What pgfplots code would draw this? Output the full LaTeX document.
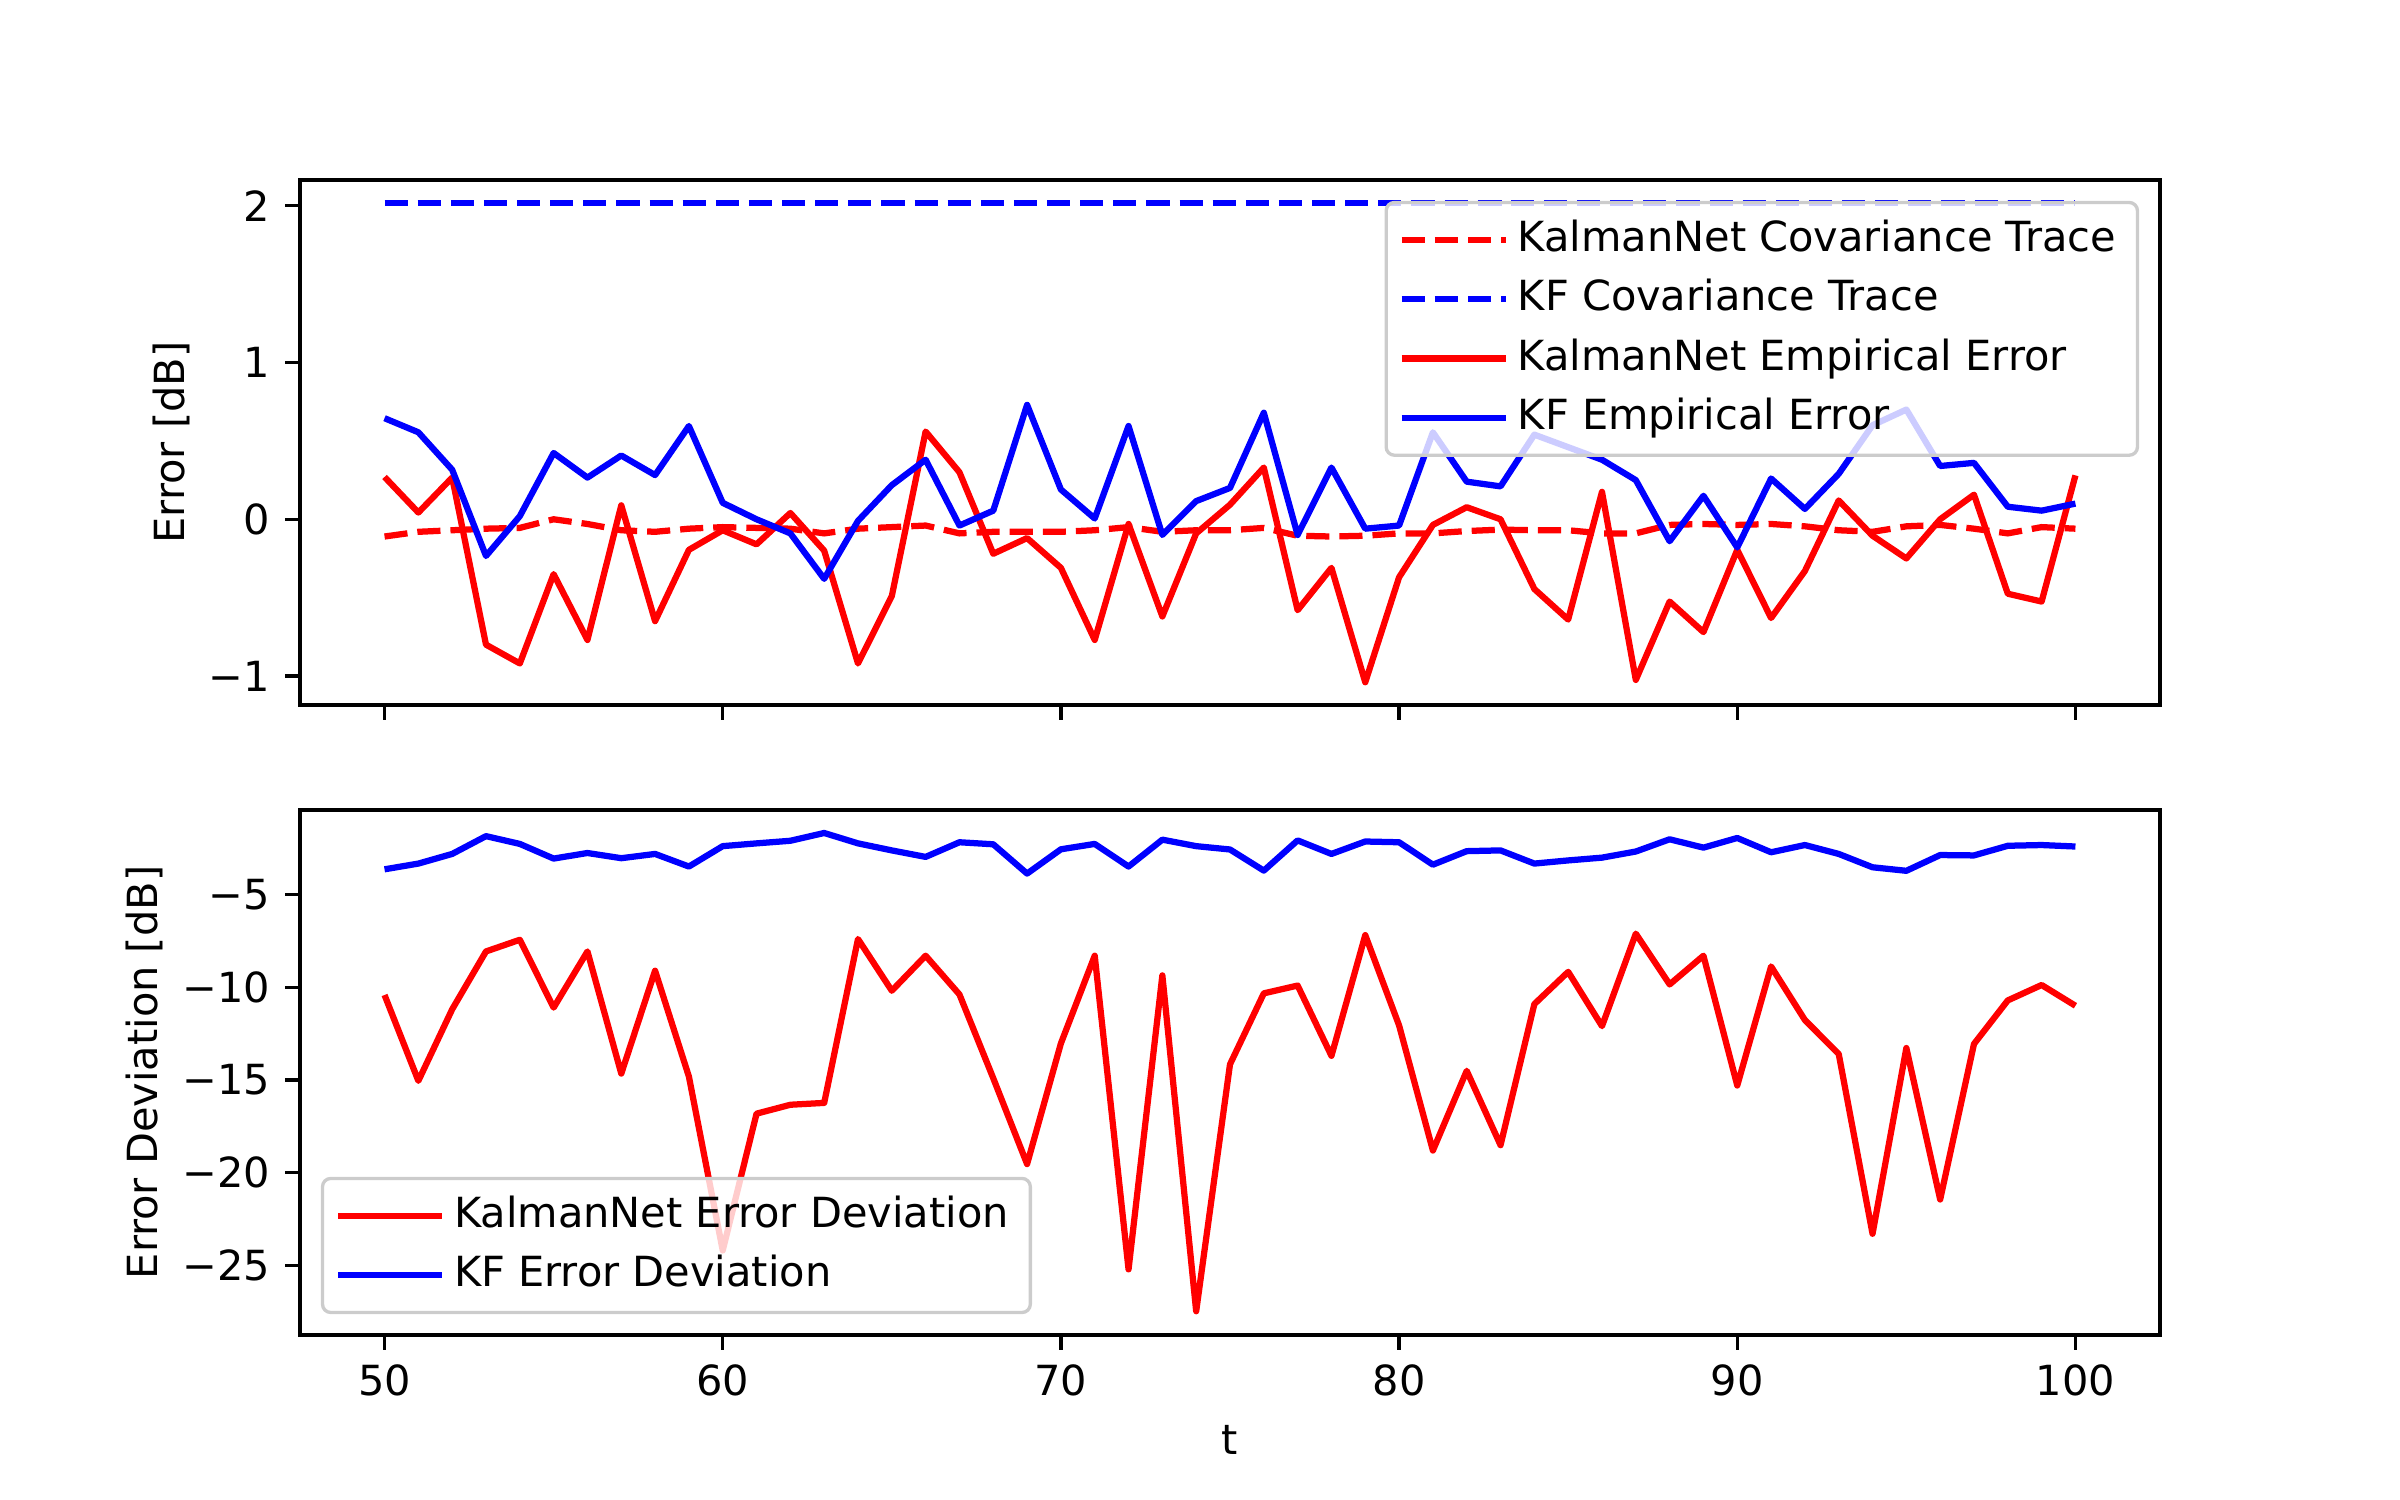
\documentclass[border=0pt]{standalone}
\usepackage{pgfplots}
\pgfplotsset{compat=1.18}
\usepackage{pgfplotstable}
\usepackage{fontspec}
\setmainfont{DejaVu Sans}

\pgfplotstableread{
t kncov kfcov knemp kfemp
50 -0.110 2.016 0.270 0.645
51 -0.080 2.016 0.043 0.555
52 -0.070 2.016 0.266 0.316
53 -0.060 2.016 -0.800 -0.234
54 -0.055 2.016 -0.920 0.020
55 0.000 2.016 -0.350 0.423
56 -0.030 2.016 -0.770 0.266
57 -0.070 2.016 0.089 0.407
58 -0.080 2.016 -0.650 0.282
59 -0.060 2.016 -0.195 0.595
60 -0.050 2.016 -0.070 0.105
61 -0.055 2.016 -0.160 0.000
62 -0.060 2.016 0.040 -0.090
63 -0.090 2.016 -0.200 -0.380
64 -0.060 2.016 -0.920 -0.010
65 -0.050 2.016 -0.490 0.218
66 -0.040 2.016 0.560 0.380
67 -0.090 2.016 0.300 -0.040
68 -0.080 2.016 -0.220 0.055
69 -0.080 2.016 -0.120 0.730
70 -0.080 2.016 -0.310 0.190
71 -0.070 2.016 -0.770 0.005
72 -0.050 2.016 -0.030 0.595
73 -0.080 2.016 -0.620 -0.100
74 -0.070 2.016 -0.090 0.116
75 -0.070 2.016 0.093 0.200
76 -0.055 2.016 0.330 0.680
77 -0.105 2.016 -0.580 -0.100
78 -0.110 2.016 -0.310 0.330
79 -0.105 2.016 -1.040 -0.060
80 -0.090 2.016 -0.370 -0.040
81 -0.090 2.016 -0.036 0.555
82 -0.075 2.016 0.077 0.240
83 -0.066 2.016 0.000 0.210
84 -0.070 2.016 -0.445 0.540
85 -0.070 2.016 -0.640 0.460
86 -0.090 2.016 0.175 0.380
87 -0.090 2.016 -1.025 0.250
88 -0.036 2.016 -0.525 -0.140
89 -0.030 2.016 -0.720 0.150
90 -0.036 2.016 -0.195 -0.180
91 -0.030 2.016 -0.630 0.260
92 -0.045 2.016 -0.330 0.066
93 -0.070 2.016 0.120 0.290
94 -0.080 2.016 -0.105 0.600
95 -0.045 2.016 -0.250 0.700
96 -0.036 2.016 0.000 0.340
97 -0.060 2.016 0.157 0.360
98 -0.090 2.016 -0.475 0.080
99 -0.050 2.016 -0.525 0.055
100 -0.060 2.016 0.280 0.100
}\toptable

\pgfplotstableread{
t kndev kfdev
50 -10.41 -3.63
51 -15.04 -3.32
52 -11.18 -2.80
53 -8.06 -1.84
54 -7.43 -2.26
55 -11.09 -3.05
56 -8.06 -2.75
57 -14.65 -3.03
58 -9.10 -2.80
59 -14.81 -3.48
60 -24.19 -2.38
61 -16.81 -2.23
62 -16.33 -2.09
63 -16.23 -1.67
64 -7.39 -2.23
65 -10.18 -2.61
66 -8.29 -2.96
67 -10.38 -2.17
68 -14.90 -2.28
69 -19.53 -3.86
70 -13.02 -2.55
71 -8.29 -2.26
72 -25.21 -3.48
73 -9.35 -2.03
74 -27.47 -2.38
75 -14.15 -2.56
76 -10.32 -3.70
77 -9.90 -2.07
78 -13.69 -2.80
79 -7.18 -2.13
80 -12.05 -2.17
81 -18.80 -3.38
82 -14.50 -2.65
83 -18.51 -2.61
84 -10.90 -3.32
85 -9.16 -3.15
86 -12.09 -3.00
87 -7.10 -2.67
88 -9.84 -2.01
89 -8.29 -2.46
90 -15.29 -1.94
91 -8.87 -2.71
92 -11.76 -2.32
93 -13.59 -2.80
94 -23.29 -3.52
95 -13.27 -3.71
96 -21.44 -2.86
97 -13.05 -2.88
98 -10.70 -2.36
99 -9.87 -2.32
100 -10.99 -2.40
}\bottable

\pgfplotsset{
  myaxis/.style={
    scale only axis,
    width=6.2in, height=1.75in,
    anchor=south west,
    xmin=47.5, xmax=102.5,
    xtick={50,60,70,80,90,100},
    axis line style={line width=0.8pt},
    every axis/.append style={line width=0.8pt},
    tick align=outside,
    tick pos=left,
    major tick length=3.5pt,
    every tick/.style={black, line width=0.8pt},
    tick label style={font=\fontsize{10}{12}\selectfont},
    label style={font=\fontsize{10}{12}\selectfont},
    ylabel shift=-2.5pt,
    legend cell align=left,
    legend image code/.code={\path (0pt,0pt) -- (25pt,0pt);\draw[##1] (0pt,0pt) -- (20pt,0pt);},
    legend style={
      draw=black!20, line width=0.8pt, rounded corners=2pt,
      fill=white, fill opacity=0.8, text opacity=1,
      font=\fontsize{10}{12}\selectfont,
      inner xsep=3pt, inner ysep=2pt,
      nodes={inner sep=2.2pt, text depth=0.2em},
      row sep=0.3pt,
    },
  },
  ln/.style={line width=1.5bp, line join=round},
  dsh/.style={line width=1.5bp, dash pattern=on 5.55bp off 2.4bp},
}

\begin{document}
\begin{tikzpicture}[font=\fontsize{10}{12}\selectfont]
\useasboundingbox (0,0) rectangle (8in,5in);

\begin{axis}[myaxis,
  at={(1in,2.65in)},
  ymin=-1.185, ymax=2.165,
  ytick={-1,0,1,2},
  yticklabels={−1,0,1,2},
  xticklabels={},
  ylabel={Error [dB]},
  legend style={at={(1,1)}, anchor=north east, xshift=-5bp, yshift=-5bp},
]
\addplot[red, dsh] table[x=t,y=kncov] {\toptable};
\addlegendentry{KalmanNet Covariance Trace}
\addplot[blue, dsh] table[x=t,y=kfcov] {\toptable};
\addlegendentry{KF Covariance Trace}
\addplot[red, ln] table[x=t,y=knemp] {\toptable};
\addlegendentry{KalmanNet Empirical Error}
\addplot[blue, ln] table[x=t,y=kfemp] {\toptable};
\addlegendentry{KF Empirical Error}
\end{axis}

\begin{axis}[myaxis,
  at={(1in,0.55in)},
  ymin=-28.75, ymax=-0.43,
  ytick={-25,-20,-15,-10,-5},
  yticklabels={−25,−20,−15,−10,−5},
  xticklabels={50,60,70,80,90,100},
  xlabel={t},
  ylabel={Error Deviation [dB]},
  legend style={at={(0,0)}, anchor=south west, xshift=5bp, yshift=5bp},
]
\addplot[red, ln] table[x=t,y=kndev] {\bottable};
\addlegendentry{KalmanNet Error Deviation}
\addplot[blue, ln] table[x=t,y=kfdev] {\bottable};
\addlegendentry{KF Error Deviation}
\end{axis}
\end{tikzpicture}
\end{document}
